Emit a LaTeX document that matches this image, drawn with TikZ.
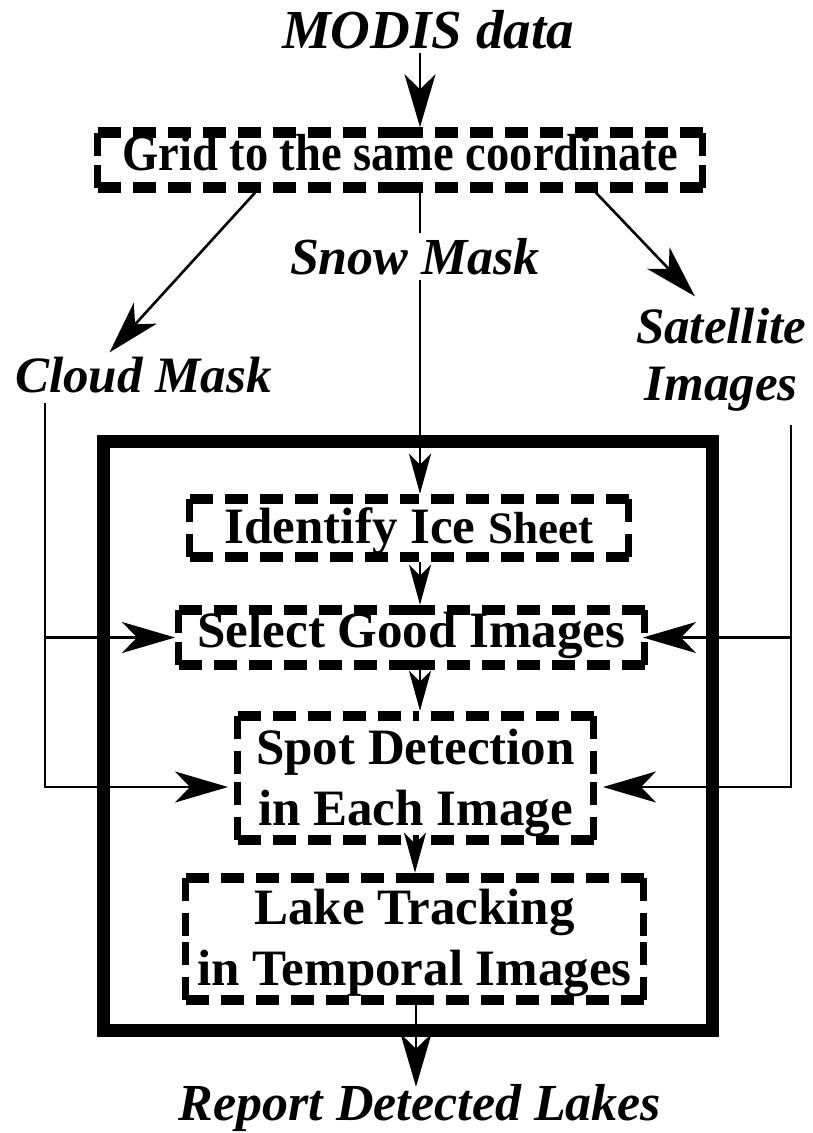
\documentclass[tikz,border=0pt]{standalone}
\usepackage{fontspec}
\setmainfont{Liberation Serif}
\usetikzlibrary{arrows.meta}
% two centred lines; the box baseline is that of the second line
\newcommand{\twolines}[2]{\vbox{\halign{\hfil##\hfil\cr #1\cr #2\cr}}}
% dashed frame round a step node: node name, half width, half height;
% every edge is dashed from both corners inwards so the corners stay closed
\newcommand{\dframe}[3]{%
  \draw[hedge] ([shift={(-#2,-#3)}]#1.center) -- ([shift={(0,-#3)}]#1.center);
  \draw[hedge] ([shift={(#2,-#3)}]#1.center) -- ([shift={(0,-#3)}]#1.center);
  \draw[hedge] ([shift={(-#2,#3)}]#1.center) -- ([shift={(0,#3)}]#1.center);
  \draw[hedge] ([shift={(#2,#3)}]#1.center) -- ([shift={(0,#3)}]#1.center);
  \draw[vedge] ([shift={(-#2,-#3)}]#1.center) -- ([shift={(-#2,0)}]#1.center);
  \draw[vedge] ([shift={(-#2,#3)}]#1.center) -- ([shift={(-#2,0)}]#1.center);
  \draw[vedge] ([shift={(#2,-#3)}]#1.center) -- ([shift={(#2,0)}]#1.center);
  \draw[vedge] ([shift={(#2,#3)}]#1.center) -- ([shift={(#2,0)}]#1.center);
}
\begin{document}
\begin{tikzpicture}[
  x=1pt, y=-1pt,
  lbl/.style={font=\fontsize{52}{57}\selectfont\bfseries\itshape, inner sep=4pt},
  dbox/.style={font=\fontsize{51}{61}\selectfont\bfseries, inner sep=0pt,
               outer xsep=3.5pt, outer ysep=5.25pt},
  hedge/.style={line width=10.5pt, dash pattern=on 23pt off 12pt},
  vedge/.style={line width=7pt, dash pattern=on 23pt off 12pt},
  wire/.style={line width=2.6pt},
  bigtip/.style={wire, -{Stealth[length=53pt,width=31pt,inset=15pt]}},
  smalltip/.style={wire, -{Stealth[length=40pt,width=22pt,inset=11pt]}},
]
\useasboundingbox (0,0) rectangle (812,1133);

% outer frame of the processing stage
\node[draw, line width=13pt, minimum width=608.5pt, minimum height=588.5pt, inner sep=0pt]
  (frame) at (407.75,735.75) {};

% inputs and outputs
\node[lbl, anchor=base, font=\fontsize{55}{60}\selectfont\bfseries\itshape]
  (modis) at (428,48) {MODIS data};
\node[lbl, anchor=base, inner sep=5pt] (snow) at (415,274) {Snow Mask};
\node[lbl, anchor=base, font=\fontsize{51}{57}\selectfont\bfseries\itshape]
  (cloud) at (143.5,392) {Cloud Mask};
\node[lbl, anchor=base, font=\fontsize{51}{57}\selectfont\bfseries\itshape]
  (sat) at (721,400) {\twolines{Satellite}{Images}};
\node[lbl, anchor=base] (report) at (420,1120) {Report Detected Lakes};

% processing steps
\node[dbox, minimum width=605pt, minimum height=55pt, text height=30pt, text depth=10pt,
      font=\fontsize{46.5}{50}\selectfont\bfseries]
  (grid) at (400,160) {\scalebox{1}[1.12]{Grid to the same coordinate}};
\node[dbox, minimum width=439pt, minimum height=58pt, text height=35pt, text depth=5pt]
  (identify) at (409,528) {Identify Ice {\fontsize{45}{50}\selectfont Sheet}};
\node[dbox, minimum width=466pt, minimum height=55pt, text height=30pt, text depth=11pt]
  (select) at (411.5,637.5) {Select Good Images};
\node[dbox, minimum width=356pt, minimum height=124pt, text height=100pt, text depth=6pt]
  (spot) at (415.5,778) {\twolines{Spot Detection}{in Each Image}};
\node[dbox, minimum width=458pt, minimum height=122pt, text height=100pt, text depth=8pt]
  (lake) at (414.5,939) {\twolines{Lake Tracking}{in Temporal Images}};

\dframe{grid}{302.5}{27.5}
\dframe{identify}{219.5}{29}
\dframe{select}{233}{27.5}
\dframe{spot}{178}{62}
\dframe{lake}{229}{61}

% reference columns for the connectors
\coordinate (cx) at (420,0);
\coordinate (cx2) at (415,0);
\coordinate (cx3) at (416,0);
\coordinate (cloudx) at (45,0);
\coordinate (satx) at (791,0);
\coordinate (c0) at ([yshift=-6pt]cloud.south);
\coordinate (s0) at ([yshift=-10pt]sat.south);
\coordinate (rtop) at ([yshift=-7pt]report.north);

% main flow
\draw[bigtip] (modis.south -| cx) -- (grid.north -| cx);
\draw[wire] (grid.south -| cx) -- (snow.north -| cx);
\draw[smalltip] (snow.south -| cx) -- (identify.north -| cx);
\draw[bigtip] ([xshift=-145pt]grid.south) -- ([xshift=-34pt]cloud.north);
\draw[bigtip] ([xshift=196pt]grid.south) -- ([xshift=-26pt,yshift=7pt]sat.north);

\draw[smalltip] (identify.south -| cx) -- (select.north -| cx);
\draw[smalltip] (select.south -| cx) -- (spot.north -| cx);
\draw[smalltip] (spot.south -| cx2) -- (lake.north -| cx2);
\draw[bigtip] (lake.south -| cx3) -- (rtop -| cx3);

% mask and image feeds
\draw[bigtip] (c0 -| cloudx) |- (select.west);
\draw[bigtip] (c0 -| cloudx) |- ([xshift=-6pt,yshift=-9pt]spot.west);
\draw[bigtip] (s0 -| satx) |- ([xshift=-5pt]select.east);
\draw[bigtip] (s0 -| satx) |- ([xshift=6pt,yshift=-9pt]spot.east);
\end{tikzpicture}
\end{document}
